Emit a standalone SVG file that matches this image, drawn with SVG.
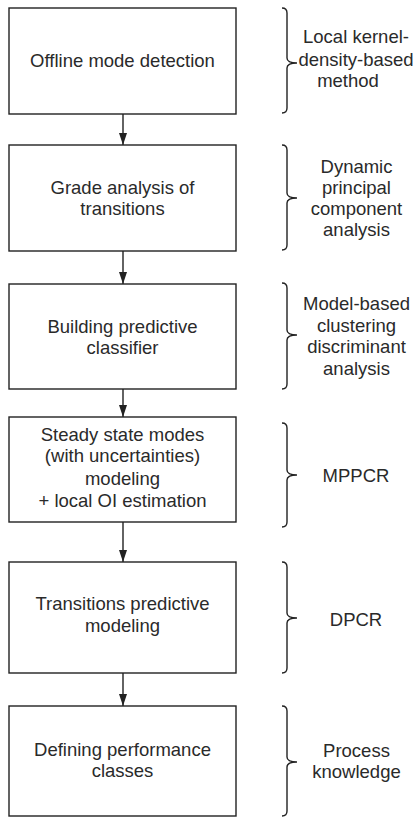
<svg xmlns="http://www.w3.org/2000/svg" width="420" height="818" viewBox="0 0 420 818">
<defs>
<style>
.box{fill:#fff;stroke:#222;stroke-width:1.4}
.t{font-family:"Liberation Sans",Arial,sans-serif;font-size:18.5px;fill:#2a2a2a;text-anchor:middle}
.br{fill:none;stroke:#222;stroke-width:1.4}
.c{stroke:#222;stroke-width:1.4;fill:none}
</style>
<marker id="ah" markerWidth="12" markerHeight="8" refX="12" refY="4" orient="auto" markerUnits="userSpaceOnUse" viewBox="0 0 12 8">
<path d="M0,0 L12,4 L0,8 Z" fill="#222"/>
</marker>
</defs>
<rect width="420" height="818" fill="#fff"/>
<g id="connectors">
<line class="c" x1="123" y1="114" x2="123" y2="145" marker-end="url(#ah)"/>
<line class="c" x1="123" y1="251" x2="123" y2="284" marker-end="url(#ah)"/>
<line class="c" x1="123" y1="389" x2="123" y2="417" marker-end="url(#ah)"/>
<line class="c" x1="123" y1="522" x2="123" y2="562" marker-end="url(#ah)"/>
<line class="c" x1="123" y1="673" x2="123" y2="706" marker-end="url(#ah)"/>
</g>
<g id="n1">
<rect class="box" x="9" y="8" width="227" height="106"/>
<text class="t" x="122.5" y="67">Offline mode detection</text>
</g>
<g id="n2">
<rect class="box" x="9" y="145" width="227" height="106"/>
<text class="t" x="122.5" y="193.5">Grade analysis of</text>
<text class="t" x="122.5" y="214.5">transitions</text>
</g>
<g id="n3">
<rect class="box" x="9" y="284" width="227" height="105"/>
<text class="t" x="122.5" y="333">Building predictive</text>
<text class="t" x="122.5" y="354">classifier</text>
</g>
<g id="n4">
<rect class="box" x="9" y="417" width="227" height="105"/>
<text class="t" x="122.5" y="441">Steady state modes</text>
<text class="t" x="122.5" y="462">(with uncertainties)</text>
<text class="t" x="122.5" y="484.5">modeling</text>
<text class="t" x="122.5" y="507">+ local OI estimation</text>
</g>
<g id="n5">
<rect class="box" x="9" y="562" width="227" height="111"/>
<text class="t" x="122.5" y="610">Transitions predictive</text>
<text class="t" x="122.5" y="631.5">modeling</text>
</g>
<g id="n6">
<rect class="box" x="9" y="706" width="227" height="110"/>
<text class="t" x="122.5" y="756">Defining performance</text>
<text class="t" x="122.5" y="777">classes</text>
</g>
<g id="b1">
<path class="br" d="M282,8 Q287,8 287,13 L287,58 Q287,63 297,63 Q287,63 287,68 L287,108 Q287,113 282,113"/>
<text class="t" x="356" y="42.5">Local kernel-</text>
<text class="t" x="356" y="65.5">density-based</text>
<text class="t" x="348" y="87">method</text>
</g>
<g id="b2">
<path class="br" d="M282,145 Q287,145 287,150 L287,193 Q287,198 297,198 Q287,198 287,203 L287,245 Q287,250 282,250"/>
<text class="t" x="356.5" y="172.5">Dynamic</text>
<text class="t" x="356.5" y="193.5">principal</text>
<text class="t" x="356.5" y="215">component</text>
<text class="t" x="356.5" y="236">analysis</text>
</g>
<g id="b3">
<path class="br" d="M282,283 Q287,283 287,288 L287,330 Q287,335 297,335 Q287,335 287,340 L287,384 Q287,389 282,389"/>
<text class="t" x="356.5" y="310">Model-based</text>
<text class="t" x="356.5" y="331.5">clustering</text>
<text class="t" x="356.5" y="353">discriminant</text>
<text class="t" x="356.5" y="375">analysis</text>
</g>
<g id="b4">
<path class="br" d="M282,423 Q287,423 287,428 L287,470 Q287,475 297,475 Q287,475 287,480 L287,522 Q287,527 282,527"/>
<text class="t" x="356" y="482">MPPCR</text>
</g>
<g id="b5">
<path class="br" d="M282,562 Q287,562 287,567 L287,613 Q287,618 297,618 Q287,618 287,623 L287,668 Q287,673 282,673"/>
<text class="t" x="356" y="626">DPCR</text>
</g>
<g id="b6">
<path class="br" d="M282,706 Q287,706 287,711 L287,757 Q287,762 297,762 Q287,762 287,767 L287,811 Q287,816 282,816"/>
<text class="t" x="356.5" y="757">Process</text>
<text class="t" x="356.5" y="778">knowledge</text>
</g>
</svg>
